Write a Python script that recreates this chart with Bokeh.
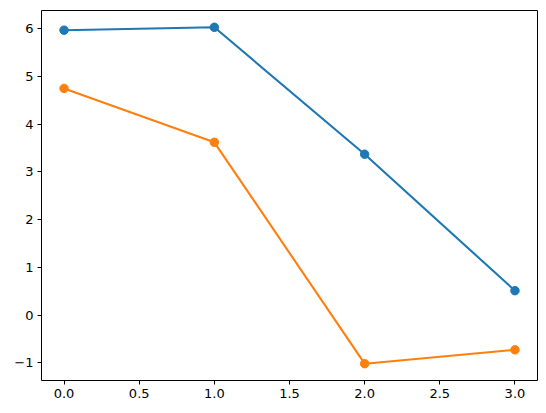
from bokeh.plotting import figure
from bokeh.models import FixedTicker, Range1d, PrintfTickFormatter
from bokeh.embed import file_html
from bokeh.resources import INLINE

x = [0, 1, 2, 3]
series_a = [5.97, 6.03, 3.37, 0.51]
series_b = [4.75, 3.62, -1.02, -0.73]
x_ticks = [0.0, 0.5, 1.0, 1.5, 2.0, 2.5, 3.0]
y_ticks = [-1, 0, 1, 2, 3, 4, 5, 6]
colors = ["#1f77b4", "#ff7f0e"]

p = figure(frame_width=496, frame_height=370, output_backend="svg",
           toolbar_location=None,
           x_range=Range1d(-0.15, 3.15), y_range=Range1d(-1.3725, 6.3825),
           min_border_left=41, min_border_right=1, min_border_top=10, min_border_bottom=25)

for ys, c in zip([series_a, series_b], colors):
    p.line(x, ys, line_color=c, line_width=2.1)
    p.scatter(x, ys, size=8.5, fill_color=c, line_color=c)

p.xgrid.visible = False
p.ygrid.visible = False
p.outline_line_color = "black"
p.outline_line_width = 1
p.outline_line_alpha = 1

p.xaxis.ticker = FixedTicker(ticks=x_ticks)
p.xaxis.formatter = PrintfTickFormatter(format="%.1f")
p.yaxis.ticker = FixedTicker(ticks=y_ticks)
p.yaxis.major_label_overrides = {t: (str(t).replace("-", "\u2212")) for t in y_ticks}

for ax in [p.xaxis[0], p.yaxis[0]]:
    ax.axis_line_color = None
    ax.major_tick_out = 4
    ax.major_tick_in = 0
    ax.minor_tick_out = 0
    ax.minor_tick_in = 0
    ax.major_tick_line_color = "black"
    ax.major_label_text_font = "DejaVu Sans"
    ax.major_label_text_font_size = "13px"
    ax.major_label_text_color = "black"
    ax.major_label_standoff = 4

open("out.html", "w").write(file_html(p, INLINE))
